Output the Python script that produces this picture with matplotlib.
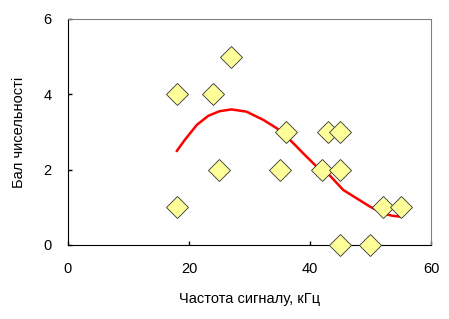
import matplotlib
matplotlib.use('Agg')
import matplotlib.pyplot as plt

plt.rcParams['font.family'] = ['Liberation Sans', 'DejaVu Sans']

# точки спостережень
freq = [18, 18, 24, 27, 25, 35, 36, 42, 43, 45, 45, 45, 50, 52, 55]
score = [4, 1, 4, 5, 2, 2, 3, 2, 3, 3, 2, 0, 0, 1, 1]

# лінія тренду
trend_x = [18, 19.3, 21.3, 23.2, 25, 27, 29.5, 32.3, 34.5, 36.7, 38.9, 41.1,
           43.3, 45.5, 47.7, 49.9, 52.1, 53.5, 55]
trend_y = [2.50, 2.79, 3.19, 3.43, 3.55, 3.60, 3.54, 3.32, 3.10, 2.79, 2.43, 2.08,
           1.84, 1.46, 1.24, 1.02, 0.84, 0.78, 0.75]

fig = plt.figure(figsize=(4.49, 3.19), dpi=100)
ax = fig.add_axes([68 / 449, 1 - 245 / 319, (431 - 68) / 449, (245 - 19) / 319])

ax.plot(trend_x, trend_y, color='#ff0000', lw=1.8, zorder=3)
ax.plot(freq, score, linestyle='none', marker='D', ms=11,
        mfc='#ffff99', mec='#333333', mew=0.6, zorder=4, clip_on=False)

ax.set_xlim(0, 60)
ax.set_ylim(0, 6)
ax.set_xticks([0, 20, 40, 60])
ax.set_yticks([0, 2, 4, 6])
ax.tick_params(direction='in', length=3, width=1, labelsize=10.5)
ax.tick_params(axis='x', pad=12)
ax.tick_params(axis='y', pad=12)

for s in ['top', 'right']:
    ax.spines[s].set_color('#808080')
for s in ['left', 'bottom']:
    ax.spines[s].set_color('black')

ax.set_xlabel('Частота сигналу, кГц', fontsize=10.5, labelpad=12)
ax.set_ylabel('Бал чисельності', fontsize=10.5, labelpad=12)

fig.savefig('out.png', dpi=100)
